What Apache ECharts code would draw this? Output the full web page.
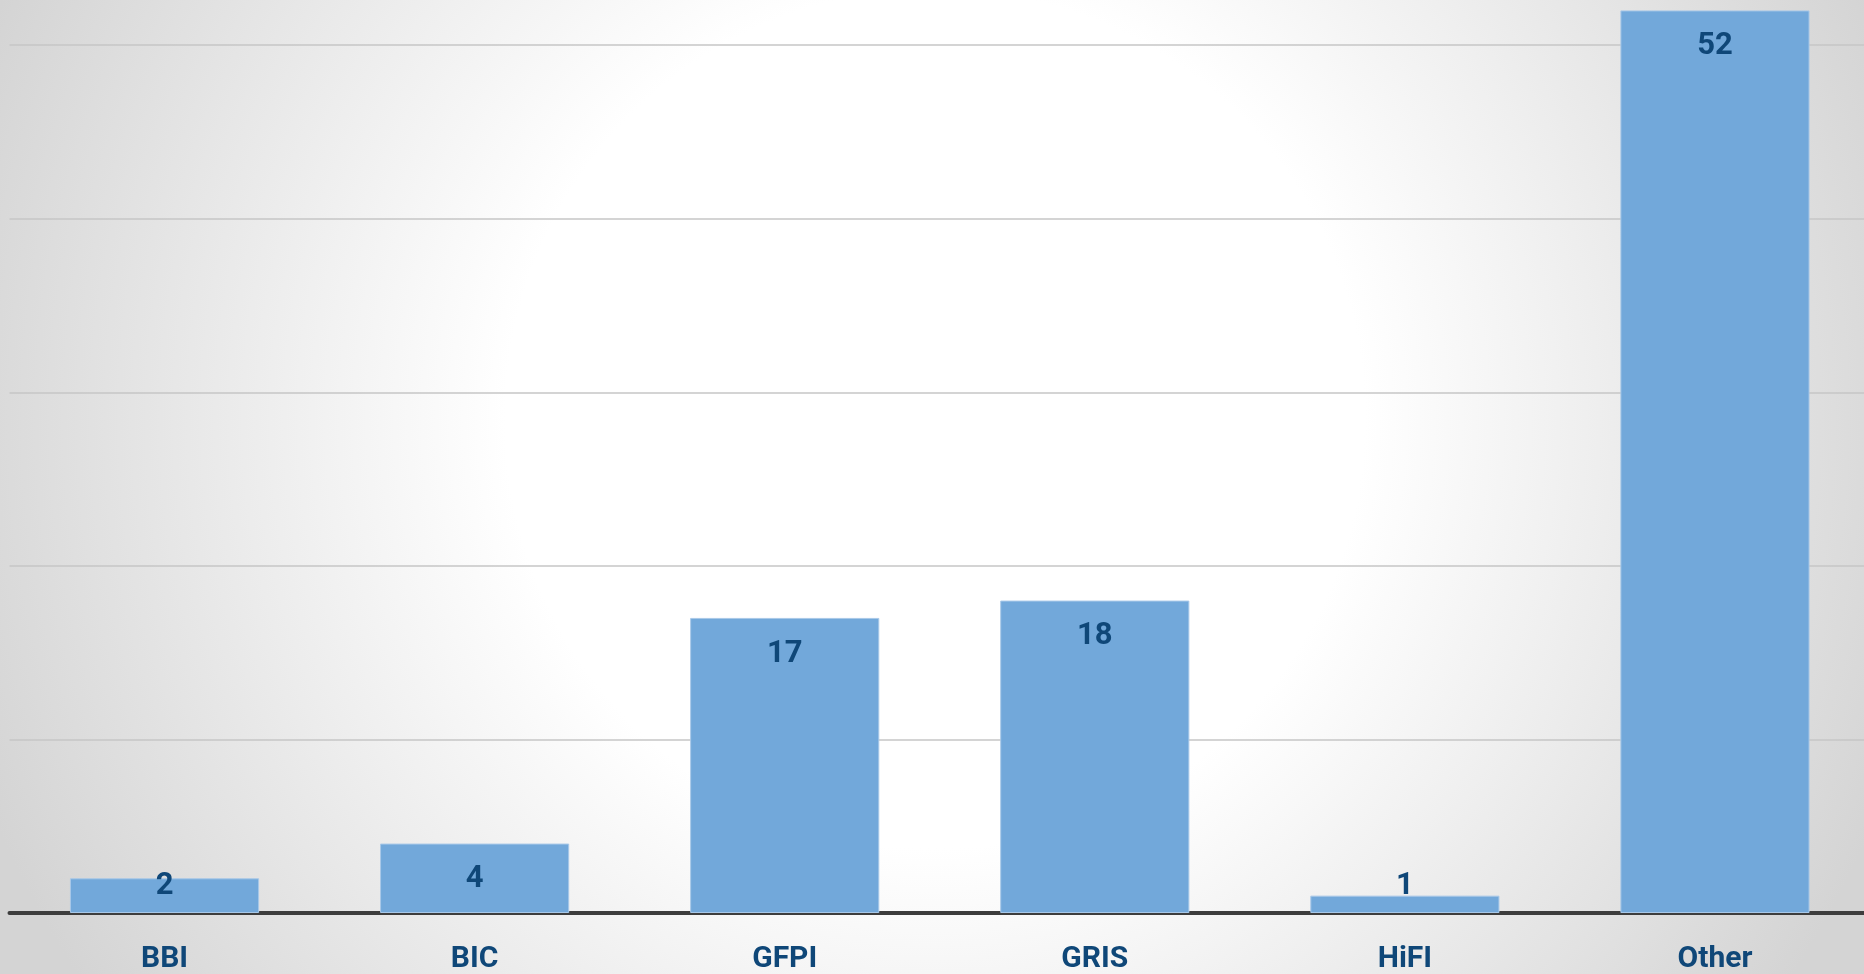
<!DOCTYPE html>
<html>
<head>
<meta charset="utf-8">
<title>chart</title>
<script src="https://cdn.jsdelivr.net/npm/echarts@6/dist/echarts.min.js"></script>
<style>
  html, body { margin: 0; padding: 0; overflow: hidden; }
  #main { width: 1870px; height: 974px; }
</style>
</head>
<body>
<div id="main"></div>
<script>
// data
var categories = ['BBI', 'BIC', 'GFPI', 'GRIS', 'HiFI', 'Other']
var counts = [2, 4, 17, 18, 1, 52]

var labelBlue = '#0f4778'

var chart = echarts.init(document.getElementById('main'))

// short bars: Excel pushes the label up to a fixed height above the axis
var barData = counts.map(function (v) {
  if (v < 4) {
    return { value: v, label: { position: 'insideBottom', distance: 10 } }
  }
  return v
})

chart.setOption({
  backgroundColor: {
    type: 'radial',
    x: 0.5, y: 0.43, r: 1.05,
    colorStops: [
      { offset: 0, color: '#ffffff' },
      { offset: 0.42, color: '#ffffff' },
      { offset: 1, color: '#d4d4d4' }
    ]
  },
  animation: false,
  grid: {
    left: 9.5,
    right: 0,
    top: 0,
    bottom: 59,
    containLabel: false
  },
  xAxis: {
    type: 'category',
    data: categories,
    axisTick: { show: false },
    axisLine: { lineStyle: { color: '#3d3d3d', width: 4 } },
    axisLabel: {
      margin: 31,
      color: labelBlue,
      fontFamily: 'Roboto',
      fontWeight: 'bold',
      fontSize: 30,
      lineHeight: 30
    }
  },
  yAxis: {
    type: 'value',
    min: 0,
    max: 52.6,
    interval: 10,
    axisLabel: { show: false },
    axisLine: { show: false },
    axisTick: { show: false },
    splitLine: { showMaxLine: false, lineStyle: { color: '#c6c6c6', width: 1.5 } }
  },
  series: [{
    type: 'bar',
    data: barData,
    barWidth: '61%',
    itemStyle: {
      color: '#72a8da',
      borderColor: '#a8c8e8',
      borderWidth: 1
    },
    label: {
      show: true,
      position: 'insideTop',
      distance: 19,
      color: labelBlue,
      fontFamily: 'Roboto',
      fontWeight: 'bold',
      fontSize: 31,
      lineHeight: 34
    }
  }]
})
</script>
</body>
</html>
